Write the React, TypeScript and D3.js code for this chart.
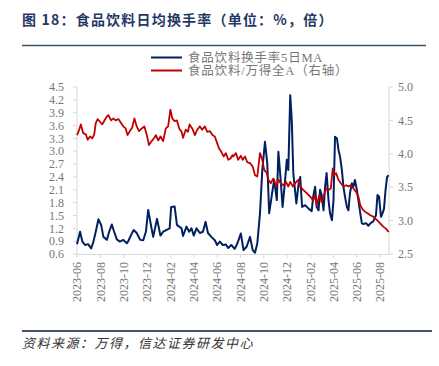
import React from "react";
import * as d3 from "d3";

const W = 439;
const H = 366;

const titleText = "图 18：食品饮料日均换手率（单位：%，倍）";
const sourceText = "资料来源：万得，信达证券研发中心";
const legendLabels = ["食品饮料换手率5日MA", "食品饮料/万得全A（右轴）"];

const leftTicks = [0.6, 0.9, 1.2, 1.5, 1.8, 2.1, 2.4, 2.7, 3.0, 3.3, 3.6, 3.9, 4.2, 4.5];
const rightTicks = [2.5, 3.0, 3.5, 4.0, 4.5, 5.0];
const xTickLabels = [
  "2023-06", "2023-08", "2023-10", "2023-12", "2024-02", "2024-04", "2024-06",
  "2024-08", "2024-10", "2024-12", "2025-02", "2025-04", "2025-06", "2025-08",
];

const turnoverDates = [
  "2023-06-01", "2023-06-09", "2023-06-15", "2023-06-22", "2023-06-30", "2023-07-08", "2023-07-14",
  "2023-07-20", "2023-07-27", "2023-08-03", "2023-08-09", "2023-08-18", "2023-08-24", "2023-08-31",
  "2023-09-06", "2023-09-13", "2023-09-21", "2023-09-30", "2023-10-09", "2023-10-13", "2023-10-20",
  "2023-10-27", "2023-11-04", "2023-11-13", "2023-11-21", "2023-11-28", "2023-12-04", "2023-12-11",
  "2023-12-17", "2023-12-27", "2024-01-05", "2024-01-12", "2024-01-20", "2024-01-29", "2024-02-02",
  "2024-02-11", "2024-02-17", "2024-02-23", "2024-02-29", "2024-03-04", "2024-03-13", "2024-03-20",
  "2024-03-26", "2024-04-01", "2024-04-08", "2024-04-17", "2024-04-25", "2024-05-02", "2024-05-08",
  "2024-05-17", "2024-05-26", "2024-06-01", "2024-06-08", "2024-06-16", "2024-06-24", "2024-06-30",
  "2024-07-08", "2024-07-17", "2024-07-24", "2024-08-02", "2024-08-09", "2024-08-17", "2024-08-26",
  "2024-09-02", "2024-09-08", "2024-09-14", "2024-09-21", "2024-09-27", "2024-10-04", "2024-10-10",
  "2024-10-15", "2024-10-22", "2024-10-28", "2024-11-04", "2024-11-08", "2024-11-14", "2024-11-19",
  "2024-11-25", "2024-11-30", "2024-12-04", "2024-12-09", "2024-12-13", "2024-12-17", "2024-12-25",
  "2024-12-31", "2025-01-04", "2025-01-09", "2025-01-17", "2025-01-26", "2025-02-03", "2025-02-07",
  "2025-02-12", "2025-02-16", "2025-02-21", "2025-02-25", "2025-03-01", "2025-03-06", "2025-03-10",
  "2025-03-14", "2025-03-19", "2025-03-23", "2025-03-28", "2025-04-01", "2025-04-05", "2025-04-10",
  "2025-04-14", "2025-04-18", "2025-04-23", "2025-04-27", "2025-05-01", "2025-05-06", "2025-05-10",
  "2025-05-14", "2025-05-19", "2025-05-23", "2025-05-27", "2025-06-01", "2025-06-05", "2025-06-10",
  "2025-06-14", "2025-06-18", "2025-06-25", "2025-07-01", "2025-07-07", "2025-07-14", "2025-07-21",
  "2025-07-25", "2025-07-29", "2025-08-03", "2025-08-07", "2025-08-11", "2025-08-15", "2025-08-19",
  "2025-08-23",
];
const turnoverValues = [
  0.83, 1.12, 0.89, 0.81, 0.83, 0.73, 0.89,
  1.12, 1.41, 1.28, 1.0, 0.93, 1.12, 1.29,
  1.12, 0.94, 0.89, 0.93, 0.85, 0.9, 1.04,
  1.16, 1.09, 0.93, 0.92, 1.12, 1.63, 1.28,
  1.0, 1.42, 1.03, 1.12, 1.16, 1.2, 1.7,
  1.71, 1.28, 1.24, 1.2, 1.02, 1.24, 1.12,
  1.2, 1.03, 1.2, 1.09, 1.12, 1.35, 1.09,
  1.0, 0.92, 0.81, 0.89, 0.81, 0.82, 0.74,
  0.81, 0.72, 0.85, 1.08, 0.69, 0.77, 1.0,
  0.69, 0.63, 0.85, 1.55, 2.56, 3.22, 2.72,
  1.55, 1.98, 2.33, 1.86, 2.99, 2.33, 1.7,
  2.26, 2.8, 2.56, 4.31, 3.73, 2.49, 1.78,
  2.25, 2.4, 1.7, 1.74, 1.66, 1.6, 1.94,
  2.17, 1.7, 1.62, 2.1, 1.98, 1.62, 2.17,
  2.49, 1.86, 1.55, 1.39, 1.86, 3.34, 3.3,
  3.03, 2.88, 2.56, 2.17, 1.94, 1.7, 1.62,
  2.02, 2.25, 2.17, 2.33, 2.1, 1.86, 1.55,
  1.32, 1.3, 1.32, 1.26, 1.32, 1.36, 1.51,
  1.98, 1.94, 1.47, 1.55, 1.66, 2.1, 2.4,
  2.44,
];

const ratioDates = [
  "2023-06-01", "2023-06-06", "2023-06-11", "2023-06-17", "2023-06-24", "2023-06-29", "2023-07-05",
  "2023-07-11", "2023-07-16", "2023-07-20", "2023-07-25", "2023-07-31", "2023-08-06", "2023-08-11",
  "2023-08-18", "2023-08-22", "2023-08-29", "2023-09-04", "2023-09-10", "2023-09-17", "2023-09-24",
  "2023-09-30", "2023-10-06", "2023-10-11", "2023-10-17", "2023-10-23", "2023-10-29", "2023-11-04",
  "2023-11-10", "2023-11-17", "2023-11-24", "2023-11-30", "2023-12-06", "2023-12-13", "2023-12-20",
  "2023-12-24", "2023-12-30", "2024-01-05", "2024-01-12", "2024-01-19", "2024-01-25", "2024-01-31",
  "2024-02-05", "2024-02-11", "2024-02-17", "2024-02-23", "2024-02-29", "2024-03-04", "2024-03-11",
  "2024-03-17", "2024-03-21", "2024-03-28", "2024-04-04", "2024-04-10", "2024-04-17", "2024-04-23",
  "2024-04-30", "2024-05-06", "2024-05-13", "2024-05-20", "2024-05-26", "2024-06-01", "2024-06-06",
  "2024-06-12", "2024-06-18", "2024-06-24", "2024-06-30", "2024-07-06", "2024-07-11", "2024-07-13",
  "2024-07-20", "2024-07-26", "2024-08-02", "2024-08-07", "2024-08-13", "2024-08-19", "2024-08-26",
  "2024-09-02", "2024-09-08", "2024-09-14", "2024-09-21", "2024-09-27", "2024-10-02", "2024-10-09",
  "2024-10-13", "2024-10-19", "2024-10-26", "2024-11-02", "2024-11-08", "2024-11-14", "2024-11-21",
  "2024-11-28", "2024-12-04", "2024-12-09", "2024-12-16", "2024-12-22", "2024-12-30", "2025-01-04",
  "2025-01-12", "2025-01-21", "2025-01-30", "2025-02-07", "2025-02-12", "2025-02-16", "2025-02-23",
  "2025-03-01", "2025-03-06", "2025-03-13", "2025-03-19", "2025-03-25", "2025-03-30", "2025-04-03",
  "2025-04-08", "2025-04-14", "2025-04-20", "2025-04-27", "2025-05-04", "2025-05-10", "2025-05-16",
  "2025-05-23", "2025-05-30", "2025-06-05", "2025-06-10", "2025-06-17", "2025-06-23", "2025-06-29",
  "2025-07-06", "2025-07-14", "2025-07-23", "2025-08-01", "2025-08-09", "2025-08-16", "2025-08-23",
];
const ratioValues = [
  4.28, 4.35, 4.44, 4.31, 4.29, 4.21, 4.26,
  4.23, 4.29, 4.46, 4.52, 4.48, 4.44, 4.49,
  4.56, 4.58, 4.5, 4.53, 4.5, 4.52, 4.46,
  4.41, 4.38, 4.28, 4.34, 4.39, 4.53, 4.41,
  4.34, 4.38, 4.41, 4.29, 4.13, 4.19, 4.24,
  4.28, 4.2, 4.26, 4.19, 4.38, 4.41, 4.66,
  4.53, 4.49, 4.5, 4.38, 4.33, 4.24, 4.36,
  4.33, 4.44, 4.38, 4.28, 4.36, 4.41, 4.36,
  4.41, 4.33, 4.34, 4.28, 4.26, 4.16, 4.08,
  4.03, 3.96, 4.01, 3.91, 3.93, 3.98, 3.96,
  4.01, 3.91, 3.97, 3.91, 3.96, 3.87, 3.86,
  3.81, 3.68, 3.66, 4.01, 3.91, 3.76, 3.71,
  3.61, 3.56, 3.63, 3.51, 3.61, 3.56, 3.53,
  3.58, 3.51, 3.58, 3.51, 3.56, 3.61, 3.51,
  3.46, 3.41, 3.36, 3.3, 3.38, 3.23, 3.38,
  3.28, 3.36, 3.48, 3.46, 3.48, 3.78, 3.68,
  3.71, 3.61, 3.56, 3.51, 3.53, 3.51, 3.53,
  3.48, 3.43, 3.36, 3.23, 3.16, 3.13, 3.11,
  3.08, 3.06, 3.01, 2.96, 2.91, 2.88, 2.83,
];

const parse = d3.timeParse("%Y-%m-%d");
const parseMonth = d3.timeParse("%Y-%m");

export default function App() {
  const left = 77;
  const right = 389;
  const top = 87;
  const bottom = 254;

  const x = d3
    .scaleTime()
    .domain([parse("2023-06-01") as Date, parse("2025-08-24") as Date])
    .range([left, right]);
  const yL = d3.scaleLinear().domain([0.6, 4.5]).range([bottom, top]);
  const yR = d3.scaleLinear().domain([2.5, 5.0]).range([bottom, top]);

  const blueData = turnoverDates.map((d, i) => ({ t: parse(d) as Date, v: turnoverValues[i] }));
  const redData = ratioDates.map((d, i) => ({ t: parse(d) as Date, v: ratioValues[i] }));

  const blueLine = d3
    .line<{ t: Date; v: number }>()
    .x((d) => x(d.t))
    .y((d) => yL(d.v));
  const redLine = d3
    .line<{ t: Date; v: number }>()
    .x((d) => x(d.t))
    .y((d) => yR(d.v));

  const axisColor = "#d9d9d9";
  const labelColor = "#767676";
  const serif = "'Liberation Serif', 'Times New Roman', serif";
  const cjk = "'Liberation Serif', 'Noto Sans CJK SC', serif";

  return (
    <svg
      width={W}
      height={H}
      style={{ position: "absolute", left: 0, top: 0, background: "#fff" }}
    >
      <rect x={0} y={0} width={W} height={H} fill="#fff" />
      {/* title */}
      <text
        x={22}
        y={25}
        fontFamily="'Noto Sans CJK SC', sans-serif"
        fontWeight="bold"
        fontSize={14}
        letterSpacing={1.2}
        fill="#1f3864"
      >
        {titleText}
      </text>
      <line x1={22} x2={426} y1={45.5} y2={45.5} stroke="#3e5068" strokeWidth={1.5} />

      {/* legend */}
      <line x1={151} x2={182} y1={57.5} y2={57.5} stroke="#002060" strokeWidth={2} />
      <text x={188} y={57.5} dy="0.35em" fontFamily={cjk} fontSize={12.5} fill={labelColor} letterSpacing={0.8}>
        {legendLabels[0]}
      </text>
      <line x1={151} x2={182} y1={70.5} y2={70.5} stroke="#c00000" strokeWidth={2} />
      <text x={188} y={70.5} dy="0.35em" fontFamily={cjk} fontSize={12.5} fill={labelColor} letterSpacing={0.8}>
        {legendLabels[1]}
      </text>

      {/* axes */}
      <line x1={left} x2={left} y1={top} y2={bottom} stroke={axisColor} />
      <line x1={right} x2={right} y1={top} y2={bottom} stroke={axisColor} />
      <line x1={left} x2={right} y1={bottom + 0.5} y2={bottom + 0.5} stroke={axisColor} />

      {leftTicks.map((t) => (
        <g key={"l" + t}>
          <line x1={left - 4} x2={left} y1={yL(t)} y2={yL(t)} stroke={axisColor} />
          <text
            x={64}
            y={yL(t)}
            dy="0.35em"
            textAnchor="end"
            fontFamily={serif}
            fontSize={12}
            fill={labelColor}
          >
            {t.toFixed(1)}
          </text>
        </g>
      ))}
      {rightTicks.map((t) => (
        <g key={"r" + t}>
          <line x1={right} x2={right + 4} y1={yR(t)} y2={yR(t)} stroke={axisColor} />
          <text
            x={398}
            y={yR(t)}
            dy="0.35em"
            textAnchor="start"
            fontFamily={serif}
            fontSize={12}
            fill={labelColor}
          >
            {t.toFixed(1)}
          </text>
        </g>
      ))}
      {xTickLabels.map((lab) => {
        const px = x(parseMonth(lab) as Date);
        return (
          <g key={lab}>
            <line x1={px} x2={px} y1={bottom} y2={bottom + 4} stroke={axisColor} />
            <text
              transform={`translate(${px},${bottom + 8}) rotate(-90)`}
              dy="0.35em"
              textAnchor="end"
              fontFamily={serif}
              fontSize={12}
              fill={labelColor}
            >
              {lab}
            </text>
          </g>
        );
      })}

      {/* series */}
      <path d={blueLine(blueData) || ""} fill="none" stroke="#002060" strokeWidth={2} strokeLinejoin="round" />
      <path d={redLine(redData) || ""} fill="none" stroke="#c00000" strokeWidth={1.8} strokeLinejoin="round" />

      {/* footer */}
      <line x1={22} x2={432} y1={331} y2={331} stroke="#44546a" strokeWidth={2} />
      <text
        x={22}
        y={348}
        fontFamily="'Noto Sans CJK SC', sans-serif"
        fontStyle="italic"
        fontSize={13}
        letterSpacing={1.5}
        fill="#333"
      >
        {sourceText}
      </text>
    </svg>
  );
}
